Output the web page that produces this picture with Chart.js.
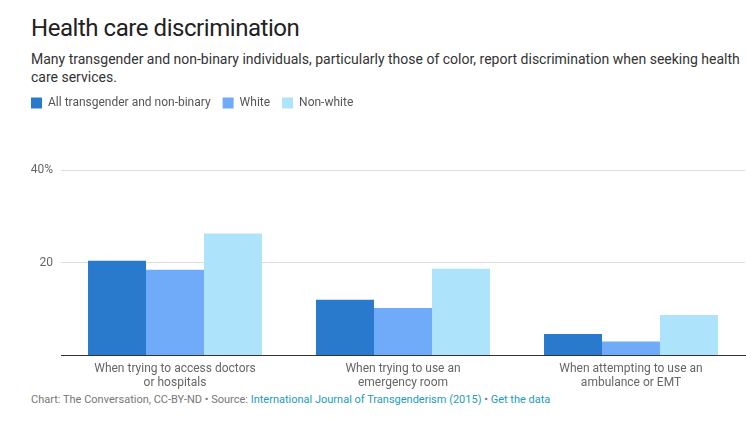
<!DOCTYPE html>
<html>
<head>
<meta charset="utf-8">
<script src="https://cdn.jsdelivr.net/npm/chart.js@4"></script>
<style>
  html, body { margin: 0; padding: 0; background: #fff; }
  body { width: 746px; height: 423px; position: relative; overflow: hidden; font-family: Roboto, "Noto Sans", sans-serif; }
  #title { position: absolute; left: 31px; top: 14px; font-size: 24px; letter-spacing: -0.45px; color: #222; }
  #subtitle { position: absolute; left: 31px; top: 51px; width: 715px; font-size: 14px; line-height: 17.5px; color: #333; }
  #wrap { position: absolute; left: 0; top: 83px; width: 746px; height: 306px; }
  #footer { position: absolute; left: 31px; top: 393px; font-size: 11px; color: #777; }
  #footer span { color: #1d9bbd; }
</style>
</head>
<body>
<div id="title">Health care discrimination</div>
<div id="subtitle">Many transgender and non-binary individuals, particularly those of color, report discrimination when seeking health<br>care services.</div>
<div id="wrap"><canvas id="barChart"></canvas></div>
<div id="footer">Chart: The Conversation, CC-BY-ND • Source: <span>International Journal of Transgenderism (2015)</span> • <span>Get the data</span></div>
<script>
// data
const categories = [
    ['When trying to access doctors', 'or hospitals'],
    ['When trying to use an', 'emergency room'],
    ['When attempting to use an', 'ambulance or EMT']
];
const seriesNames = ['All transgender and non-binary', 'White', 'Non-white'];
const allValues = [20.4, 12.0, 4.6];
const whiteValues = [18.5, 10.2, 3.0];
const nonWhiteValues = [26.3, 18.7, 8.7];
const yTicks = [0, 20, 40];
const yTickLabels = ['', '20', '40%'];

const colors = ['#2979cc', '#70abf9', '#aee3fc'];

// extra room under the legend
const legendSpacer = {
    id: 'legendSpacer',
    beforeInit(chart) {
        const fit = chart.legend.fit;
        chart.legend.fit = function () {
            fit.bind(chart.legend)();
            this.height += 51;
        };
    }
};

const ctx = document.getElementById('barChart').getContext('2d');

new Chart(ctx, {
    type: 'bar',
    data: {
        labels: categories,
        datasets: [allValues, whiteValues, nonWhiteValues].map((vals, i) => ({
            label: seriesNames[i],
            data: vals,
            backgroundColor: colors[i],
            borderWidth: 0,
            barPercentage: 1.0,
            categoryPercentage: 0.763
        }))
    },
    options: {
        responsive: true,
        maintainAspectRatio: false,
        animation: false,
        layout: { padding: { left: 19, right: 1, top: 2, bottom: 0 } },
        plugins: {
            legend: {
                position: 'top',
                align: 'start',
                labels: {
                    boxWidth: 11,
                    boxHeight: 11,
                    padding: 12,
                    color: '#555',
                    font: { family: 'Roboto', size: 12 }
                }
            },
            tooltip: { enabled: false }
        },
        scales: {
            x: {
                grid: { display: false },
                border: { display: true, color: '#333', width: 1 },
                ticks: {
                    color: '#666',
                    padding: -1,
                    maxRotation: 0,
                    font: { family: 'Roboto', size: 12, lineHeight: 1.15 }
                }
            },
            y: {
                min: 0,
                max: 40,
                afterFit(scale) { scale.width = 42; },
                afterBuildTicks(scale) { scale.ticks = yTicks.map(v => ({ value: v })); },
                border: { display: false },
                grid: {
                    drawTicks: false,
                    color: c => c.tick && c.tick.value === 0 ? '#333' : '#dddddd'
                },
                ticks: {
                    padding: 8,
                    color: '#666',
                    font: { family: 'Roboto', size: 12 },
                    callback: v => yTickLabels[yTicks.indexOf(v)]
                }
            }
        }
    },
    plugins: [legendSpacer]
});
</script>
</body>
</html>
